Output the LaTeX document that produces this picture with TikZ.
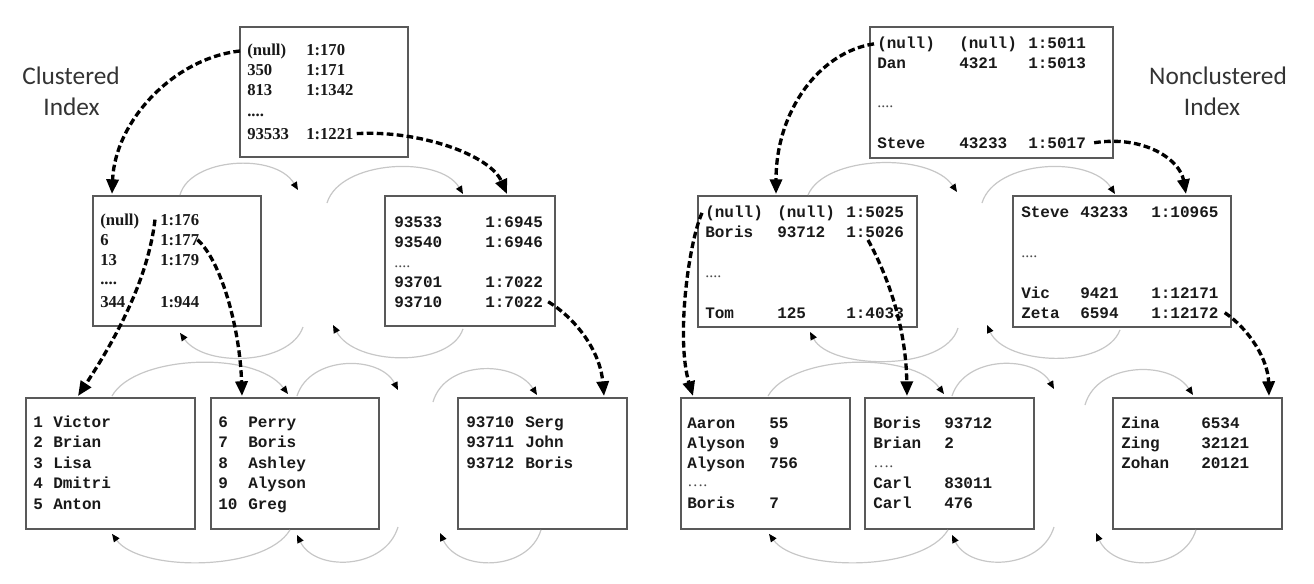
\documentclass[tikz,border=0pt]{standalone}
\usepackage{fontspec}
\setmainfont{Liberation Serif}
\newfontfamily\monof{Liberation Mono}
\newfontfamily\labf{Carlito}
\usetikzlibrary{arrows.meta,calc}

\begin{document}
\begin{tikzpicture}[x=0.75pt,y=-0.75pt,
  box/.style={draw=black!65, line width=1.4pt, inner sep=0pt, anchor=north west},
  sv/.style={font=\fontsize{12.5pt}{14pt}\selectfont\bfseries, anchor=base west, inner sep=0pt, text=black!90},
  mv/.style={font=\monof\fontsize{12pt}{14pt}\selectfont\bfseries, anchor=base west, inner sep=0pt, text=black!90},
  dots/.style={font=\fontsize{12pt}{14pt}\selectfont, anchor=base west, inner sep=0pt, text=black!70},
  heading/.style={font=\labf\fontsize{19pt}{22pt}\selectfont, text=black!80, inner sep=0pt},
  ptr/.style={draw=black, line width=2.5pt, dash pattern=on 5pt off 2.5pt, -{Triangle[length=11pt,width=9pt]}},
  lnk/.style={draw=black!22, line width=0.9pt, -{Triangle[length=6pt,width=5pt,color=black]}},
]
\useasboundingbox (0,0) rectangle (1314,583);

% ---------- headings
\node[heading] (hc1) at (71,76) {Clustered};
\node[heading] (hc2) at (71.5,107) {Index};
\node[heading] (hn1) at (1218,76) {Nonclustered};
\node[heading] (hn2) at (1212,107) {Index};

% ---------- page boxes
\node[box, minimum width=168*0.75pt, minimum height=130*0.75pt] (L0) at (239,26) {};
\node[box, minimum width=168*0.75pt, minimum height=130*0.75pt] (L1) at (92,195) {};
\node[box, minimum width=170*0.75pt, minimum height=130*0.75pt] (L2) at (384,195) {};
\node[box, minimum width=169*0.75pt, minimum height=131*0.75pt] (B1) at (25,397) {};
\node[box, minimum width=168*0.75pt, minimum height=131*0.75pt] (B2) at (210,397) {};
\node[box, minimum width=169*0.75pt, minimum height=131*0.75pt] (B3) at (457,397) {};
\node[box, minimum width=243*0.75pt, minimum height=131*0.75pt] (R0) at (869,26) {};
\node[box, minimum width=219*0.75pt, minimum height=131*0.75pt] (R1) at (697,195) {};
\node[box, minimum width=218*0.75pt, minimum height=131*0.75pt] (R2) at (1012,195) {};
\node[box, minimum width=169*0.75pt, minimum height=131*0.75pt] (B4) at (680,397) {};
\node[box, minimum width=169*0.75pt, minimum height=131*0.75pt] (B5) at (864,397) {};
\node[box, minimum width=169*0.75pt, minimum height=131*0.75pt] (B6) at (1112,397) {};

% ---------- clustered index: root
\node[sv] (l0a1) at (247,55) {(null)};  \node[sv] (l0b1) at (306,55) {1:170};
\node[sv] (l0a2) at (247,75) {350};     \node[sv] (l0b2) at (306,75) {1:171};
\node[sv] (l0a3) at (247,95) {813};     \node[sv] (l0b3) at (306,95) {1:1342};
\node[sv] (l0a4) at (247,116) {....};
\node[sv] (l0a5) at (247,139) {93533};  \node[sv] (l0b5) at (306,139) {1:1221};

% ---------- clustered index: intermediate level
\node[sv] (l1a1) at (100,225) {(null)}; \node[sv] (l1b1) at (160,225) {1:176};
\node[sv] (l1a2) at (100,245) {6};      \node[sv] (l1b2) at (160,245) {1:177};
\node[sv] (l1a3) at (100,265) {13};     \node[sv] (l1b3) at (160,265) {1:179};
\node[sv] (l1a4) at (100,284) {....};
\node[sv] (l1a5) at (100,307) {344};    \node[sv] (l1b5) at (160,307) {1:944};

\node[mv] (l2a1) at (394,227) {93533};  \node[mv] (l2b1) at (485,227) {1:6945};
\node[mv] (l2a2) at (394,247) {93540};  \node[mv] (l2b2) at (485,247) {1:6946};
\node[dots] (l2a3) at (394,267) {....};
\node[mv] (l2a4) at (394,287) {93701};  \node[mv] (l2b4) at (485,287) {1:7022};
\node[mv] (l2a5) at (394,307) {93710};  \node[mv] (l2b5) at (485,307) {1:7022};

% ---------- clustered index: data pages
\node[mv] (b1a1) at (33,427) {1}; \node[mv] (b1b1) at (53,427) {Victor};
\node[mv] (b1a2) at (33,447) {2}; \node[mv] (b1b2) at (53,447) {Brian};
\node[mv] (b1a3) at (33,468) {3}; \node[mv] (b1b3) at (53,468) {Lisa};
\node[mv] (b1a4) at (33,488) {4}; \node[mv] (b1b4) at (53,488) {Dmitri};
\node[mv] (b1a5) at (33,509) {5}; \node[mv] (b1b5) at (53,509) {Anton};

\node[mv] (b2a1) at (218,427) {6};  \node[mv] (b2b1) at (248,427) {Perry};
\node[mv] (b2a2) at (218,447) {7};  \node[mv] (b2b2) at (248,447) {Boris};
\node[mv] (b2a3) at (218,468) {8};  \node[mv] (b2b3) at (248,468) {Ashley};
\node[mv] (b2a4) at (218,488) {9};  \node[mv] (b2b4) at (248,488) {Alyson};
\node[mv] (b2a5) at (218,509) {10}; \node[mv] (b2b5) at (248,509) {Greg};

\node[mv] (b3a1) at (466,427) {93710}; \node[mv] (b3b1) at (525,427) {Serg};
\node[mv] (b3a2) at (466,447) {93711}; \node[mv] (b3b2) at (525,447) {John};
\node[mv] (b3a3) at (466,468) {93712}; \node[mv] (b3b3) at (525,468) {Boris};

% ---------- nonclustered index: root
\node[mv] (r0a1) at (877,48) {(null)}; \node[mv] (r0b1) at (959,48) {(null)}; \node[mv] (r0c1) at (1028,48) {1:5011};
\node[mv] (r0a2) at (877,68) {Dan};    \node[mv] (r0b2) at (959,68) {4321};   \node[mv] (r0c2) at (1028,68) {1:5013};
\node[dots] (r0a3) at (877,107) {....};
\node[mv] (r0a4) at (877,148) {Steve}; \node[mv] (r0b4) at (959,148) {43233}; \node[mv] (r0c4) at (1028,148) {1:5017};

% ---------- nonclustered index: intermediate level
\node[mv] (r1a1) at (705,217) {(null)}; \node[mv] (r1b1) at (777,217) {(null)}; \node[mv] (r1c1) at (846,217) {1:5025};
\node[mv] (r1a2) at (705,237) {Boris};  \node[mv] (r1b2) at (777,237) {93712};  \node[mv] (r1c2) at (846,237) {1:5026};
\node[dots] (r1a3) at (705,277) {....};
\node[mv] (r1a4) at (705,318) {Tom};    \node[mv] (r1b4) at (777,318) {125};    \node[mv] (r1c4) at (846,318) {1:4033};

\node[mv] (r2a1) at (1021,217) {Steve}; \node[mv] (r2b1) at (1080,217) {43233}; \node[mv] (r2c1) at (1151,217) {1:10965};
\node[dots] (r2a2) at (1021,257) {....};
\node[mv] (r2a3) at (1021,298) {Vic};   \node[mv] (r2b3) at (1080,298) {9421};  \node[mv] (r2c3) at (1151,298) {1:12171};
\node[mv] (r2a4) at (1021,318) {Zeta};  \node[mv] (r2b4) at (1080,318) {6594};  \node[mv] (r2c4) at (1151,318) {1:12172};

% ---------- nonclustered index: leaf pages
\node[mv] (b4a1) at (687,428) {Aaron};  \node[mv] (b4b1) at (769,428) {55};
\node[mv] (b4a2) at (687,448) {Alyson}; \node[mv] (b4b2) at (769,448) {9};
\node[mv] (b4a3) at (687,468) {Alyson}; \node[mv] (b4b3) at (769,468) {756};
\node[dots] (b4a4) at (687,486) {….};
\node[mv] (b4a5) at (687,508) {Boris};  \node[mv] (b4b5) at (769,508) {7};

\node[mv] (b5a1) at (873,428) {Boris};  \node[mv] (b5b1) at (944,428) {93712};
\node[mv] (b5a2) at (873,448) {Brian};  \node[mv] (b5b2) at (944,448) {2};
\node[dots] (b5a3) at (873,467) {….};
\node[mv] (b5a4) at (873,488) {Carl};   \node[mv] (b5b4) at (944,488) {83011};
\node[mv] (b5a5) at (873,508) {Carl};   \node[mv] (b5b5) at (944,508) {476};

\node[mv] (b6a1) at (1121,428) {Zina};  \node[mv] (b6b1) at (1201,428) {6534};
\node[mv] (b6a2) at (1121,448) {Zing};  \node[mv] (b6b2) at (1201,448) {32121};
\node[mv] (b6a3) at (1121,468) {Zohan}; \node[mv] (b6b3) at (1201,468) {20121};

% ---------- free ends of the sibling links
\coordinate (fa) at (298,190);  \coordinate (fb) at (327,203);
\coordinate (fc) at (303,327);  \coordinate (fd) at (333,325);
\coordinate (ff) at (398,390);  \coordinate (fg) at (433,402);
\coordinate (fi) at (398,527);  \coordinate (fj) at (440,533);
\coordinate (fk) at (957,192);  \coordinate (fl) at (982,203);
\coordinate (fm) at (958,328);  \coordinate (fn) at (987,325);
\coordinate (fp) at (1054,389); \coordinate (fq) at (1085,405);
\coordinate (fs) at (1054,527); \coordinate (ft) at (1096,533);

% ---------- sibling links (grey)
\draw[lnk] ($(L1.north west)+(88,0)$) .. controls (190,158) and (275,152) .. (fa);
\draw[lnk] (fb) .. controls (340,160) and (440,155) .. ($(L2.north west)+(79,-1)$);
\draw[lnk] (fc) .. controls (290,365) and (205,368) .. ($(L1.south west)+(88,6)$);
\draw[lnk] ($(L2.south west)+(79,2)$) .. controls (450,368) and (355,366) .. (fd);

\draw[lnk] ($(B1.north west)+(87,-1)$) .. controls (135,355) and (255,350) .. ($(B2.north west)+(78,-3)$);
\draw[lnk] ($(B2.north west)+(87,-1)$) .. controls (310,355) and (380,355) .. (ff);
\draw[lnk] (fg) .. controls (445,360) and (515,360) .. ($(B3.north west)+(80,-2)$);
\draw[lnk] ($(B2.south west)+(80,0)$) .. controls (265,572) and (140,572) .. ($(B1.south west)+(87,4)$);
\draw[lnk] (fi) .. controls (385,570) and (315,572) .. ($(B2.south west)+(87,5)$);
\draw[lnk] ($(B3.south west)+(84,0)$) .. controls (528,572) and (458,572) .. (fj);

\draw[lnk] ($(R1.north west)+(111,0)$) .. controls (825,155) and (930,152) .. (fk);
\draw[lnk] (fl) .. controls (995,160) and (1090,155) .. ($(R2.north west)+(103,-1)$);
\draw[lnk] (fm) .. controls (945,372) and (830,370) .. ($(R1.south west)+(113,4)$);
\draw[lnk] ($(R2.south west)+(108,2)$) .. controls (1105,370) and (1005,365) .. (fn);

\draw[lnk] ($(B4.north west)+(88,-1)$) .. controls (791,355) and (911,350) .. ($(B5.north west)+(80,-3)$);
\draw[lnk] ($(B5.north west)+(88,-1)$) .. controls (965,355) and (1035,355) .. (fp);
\draw[lnk] (fq) .. controls (1097,362) and (1170,360) .. ($(B6.north west)+(81,-2)$);
\draw[lnk] ($(B5.south west)+(84,0)$) .. controls (923,572) and (797,572) .. ($(B4.south west)+(89,4)$);
\draw[lnk] (fs) .. controls (1041,570) and (970,572) .. ($(B5.south west)+(88,5)$);
\draw[lnk] ($(B6.south west)+(84,0)$) .. controls (1183,572) and (1114,572) .. (ft);

% ---------- child pointers (dashed)
\draw[ptr] ($(l0a1.west)+(-7,0)$) .. controls (175,58) and (115,120) .. ($(L1.north west)+(20,-1)$);
\draw[ptr] ($(l0b5.east)+(3,0)$) .. controls (420,130) and (490,155) .. ($(L2.north west)+(123,-1)$);
\draw[ptr] ($(l1b1.west)+(-5,0)$) .. controls (148,280) and (115,340) .. ($(B1.north west)+(53,-1)$);
\draw[ptr] ($(l1b2.east)+(-2,0)$) .. controls (222,262) and (240,330) .. ($(B2.north west)+(32,-1)$);
\draw[ptr] ($(l2b5.east)+(5,0)$) .. controls (575,318) and (600,350) .. ($(B3.north west)+(147,-1)$);

\draw[ptr] ($(r0a1.west)+(-3,0)$) .. controls (820,52) and (776,110) .. ($(R1.north west)+(79,-1)$);
\draw[ptr] ($(r0c4.east)+(8,0)$) .. controls (1145,135) and (1180,160) .. ($(R2.north west)+(174,-1)$);
\draw[ptr] ($(r1a1.west)+(-3,0)$) .. controls (688,245) and (676,340) .. ($(B4.north west)+(13,-1)$);
\draw[ptr] ($(r1c2.base west)+(22,3)$) .. controls (890,280) and (906,330) .. ($(B5.north west)+(43,-1)$);
\draw[ptr] ($(r2c4.east)+(6,0)$) .. controls (1250,330) and (1268,360) .. ($(B6.north west)+(157,-1)$);
\end{tikzpicture}
\end{document}
